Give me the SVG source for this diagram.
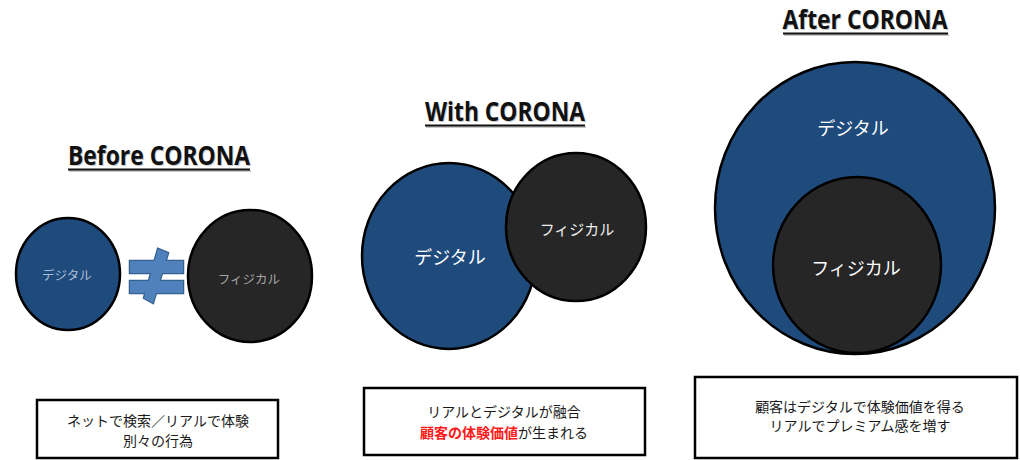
<svg xmlns="http://www.w3.org/2000/svg" width="1020" height="460" viewBox="0 0 1020 460">
<style>
.title{font-family:"Open Sans","Liberation Sans",Arial,sans-serif;font-weight:bold;font-size:27px;fill:#111;text-anchor:middle}
.shadow{font-family:"Open Sans","Liberation Sans",Arial,sans-serif;font-weight:bold;font-size:27px;fill:#c8c8c8;text-anchor:middle}
.ul{stroke:#111;stroke-width:2}
.ulsh{stroke:#c8c8c8;stroke-width:2}
.dig{fill:#1f4a7c;stroke:#000;stroke-width:2.5}
.phy{fill:#262626;stroke:#000;stroke-width:2.5}
.lbl{font-family:"Noto Sans CJK JP","Noto Sans",sans-serif;fill:#fff;text-anchor:middle;dominant-baseline:central}
.box{fill:#fff;stroke:#000;stroke-width:2.5}
.bt{font-family:"Noto Sans CJK JP","Noto Sans",sans-serif;font-size:14px;fill:#1a1a1a;text-anchor:middle;dominant-baseline:central}
.red{fill:#ff1a1a;font-weight:bold}
.neq{fill:#4f81bd}
.neqs{fill:#4f81bd;stroke:#35618f;stroke-width:2.5}
</style>
<rect width="1020" height="460" fill="#fff"/>

<g id="before">
  <g id="before-title">
    <text class="shadow" x="160" y="166" textLength="182" lengthAdjust="spacingAndGlyphs">Before CORONA</text>
    <line class="ulsh" x1="69" y1="171" x2="251" y2="171"/>
    <text class="title" x="159" y="165" textLength="182" lengthAdjust="spacingAndGlyphs">Before CORONA</text>
    <line class="ul" x1="68" y1="169.5" x2="250" y2="169.5"/>
  </g>
  <g id="before-digital">
    <ellipse class="dig" cx="68" cy="274" rx="52" ry="56"/>
    <text class="lbl" x="67" y="274" font-size="12.5" style="fill:#a9bdd8">デジタル</text>
  </g>
  <g id="before-neq">
    <rect class="neqs" x="130" y="261" width="53" height="12"/>
    <rect class="neqs" x="130" y="281" width="53" height="12"/>
    <polygon class="neqs" points="158,249 168,253 153,303 144,298"/>
    <rect class="neq" x="130" y="261" width="53" height="12"/>
    <rect class="neq" x="130" y="281" width="53" height="12"/>
    <polygon class="neq" points="158,249 168,253 153,303 144,298"/>
  </g>
  <g id="before-physical">
    <ellipse class="phy" cx="250" cy="276" rx="62" ry="66"/>
    <text class="lbl" x="249" y="278" font-size="12.5" style="fill:#a6a6a6">フィジカル</text>
  </g>
  <g id="before-box">
    <rect class="box" x="37" y="400" width="241" height="58"/>
    <text class="bt" x="158" y="420">ネットで検索／リアルで体験</text>
    <text class="bt" x="158" y="440">別々の行為</text>
  </g>
</g>

<g id="with">
  <g id="with-title">
    <text class="shadow" x="506" y="122" textLength="160" lengthAdjust="spacingAndGlyphs">With CORONA</text>
    <line class="ulsh" x1="426" y1="127" x2="586" y2="127"/>
    <text class="title" x="505" y="121" textLength="160" lengthAdjust="spacingAndGlyphs">With CORONA</text>
    <line class="ul" x1="425" y1="125.5" x2="585" y2="125.5"/>
  </g>
  <g id="with-digital">
    <ellipse class="dig" cx="449" cy="256" rx="87" ry="93"/>
    <text class="lbl" x="450" y="256" font-size="18">デジタル</text>
  </g>
  <g id="with-physical">
    <ellipse class="phy" cx="576" cy="227" rx="70" ry="74"/>
    <text class="lbl" x="577" y="228" font-size="15" style="fill:#eee">フィジカル</text>
  </g>
  <g id="with-box">
    <rect class="box" x="364" y="388" width="281" height="67"/>
    <text class="bt" x="504" y="411">リアルとデジタルが融合</text>
    <text class="bt" x="504" y="432"><tspan class="red">顧客の体験価値</tspan>が生まれる</text>
  </g>
</g>

<g id="after">
  <g id="after-title">
    <text class="shadow" x="866" y="30" textLength="165" lengthAdjust="spacingAndGlyphs">After CORONA</text>
    <line class="ulsh" x1="784" y1="35" x2="949" y2="35"/>
    <text class="title" x="865" y="29" textLength="165" lengthAdjust="spacingAndGlyphs">After CORONA</text>
    <line class="ul" x1="783" y1="33.5" x2="948" y2="33.5"/>
  </g>
  <g id="after-digital">
    <ellipse class="dig" cx="855" cy="208" rx="140" ry="146"/>
    <text class="lbl" x="853" y="127" font-size="18">デジタル</text>
  </g>
  <g id="after-physical">
    <ellipse class="phy" cx="857" cy="265" rx="84" ry="88"/>
    <text class="lbl" x="856" y="267" font-size="18">フィジカル</text>
  </g>
  <g id="after-box">
    <rect class="box" x="695" y="377" width="322" height="81"/>
    <text class="bt" x="860" y="406">顧客はデジタルで体験価値を得る</text>
    <text class="bt" x="860" y="425">リアルでプレミアム感を増す</text>
  </g>
</g>
<g id="connectors"></g>
</svg>
